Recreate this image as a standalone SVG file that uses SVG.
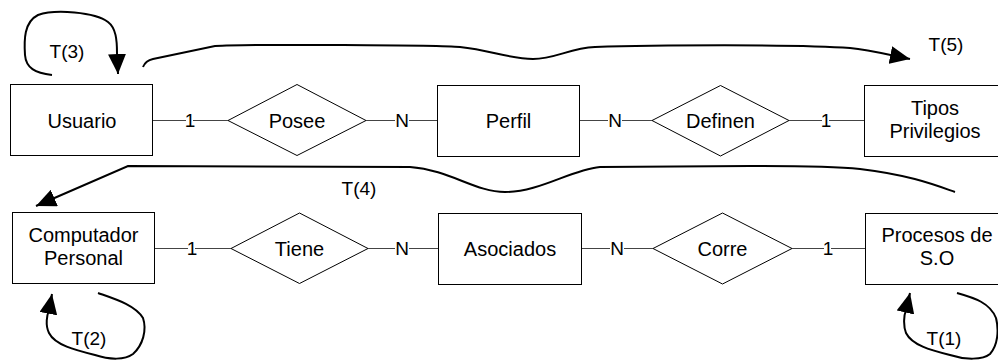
<svg xmlns="http://www.w3.org/2000/svg" width="998" height="360" viewBox="0 0 998 360">
  <style>
    .box { fill: #fff; stroke: #000; stroke-width: 1; }
    .rel { fill: #fff; stroke: #000; stroke-width: 1; }
    .txt { font-family: "Liberation Sans", Arial, sans-serif; font-size: 20px; fill: #000; text-anchor: middle; }
    .lbl { font-family: "Liberation Sans", Arial, sans-serif; font-size: 19px; fill: #000; text-anchor: middle; }
    .link { fill: none; stroke: #444; stroke-width: 1.2; }
    .flow { fill: none; stroke: #000; stroke-width: 2; marker-end: url(#arrow); }
  </style>
  <defs>
    <marker id="arrow" viewBox="0 0 20 18" refX="20" refY="9" markerWidth="20" markerHeight="18" markerUnits="userSpaceOnUse" orient="auto">
      <path d="M0,0 L20,9 L0,18 z" fill="#000"/>
    </marker>
  </defs>

  <rect width="998" height="360" fill="#fff"/>

  <!-- relationship lines with cardinalities -->
  <g id="connectors">
    <path class="link" d="M153,120.5 H186 M193,120.5 H228"/>
    <text class="lbl" x="190" y="127">1</text>
    <path class="link" d="M366,120.5 H395 M409,120.5 H437"/>
    <text class="lbl" x="402" y="127">N</text>
    <path class="link" d="M580,120.5 H608 M622,120.5 H652"/>
    <text class="lbl" x="615" y="127">N</text>
    <path class="link" d="M789,120.5 H822 M829,120.5 H864"/>
    <text class="lbl" x="826" y="127">1</text>

    <path class="link" d="M155,248.5 H188 M195,248.5 H231"/>
    <text class="lbl" x="192" y="255">1</text>
    <path class="link" d="M368,248.5 H395 M409,248.5 H438"/>
    <text class="lbl" x="402" y="255">N</text>
    <path class="link" d="M582,248.5 H610 M624,248.5 H653"/>
    <text class="lbl" x="617" y="255">N</text>
    <path class="link" d="M792,248.5 H824 M831,248.5 H866"/>
    <text class="lbl" x="828" y="255">1</text>

    <!-- transition arrows -->
    <path class="flow" d="M52,75 C35,73 26,68 25,55 C24,40 24,22 38,15 C55,9 95,12 108,22 C116,28 117,40 117,53 L118,74"/>
    <text class="lbl" x="67" y="58">T(3)</text>

    <path class="flow" d="M143,67 C145,62 148,60 153,59 L215,46 C250,44 440,45 460,47 C490,50 510,59 533,59 C555,59 570,48 595,47 C650,45 800,44 850,48 C870,50 885,54 910,59"/>
    <text class="lbl" x="946" y="51">T(5)</text>

    <path class="flow" d="M955,192 C935,185 910,175 860,169 C830,166 780,166 750,166 L600,167 C570,170 540,192 505,192 C475,192 450,170 410,167 L128,166 L36,206"/>
    <text class="lbl" x="359" y="195">T(4)</text>

    <path class="flow" d="M98,293 C115,299 135,305 143,318 C147,330 143,345 133,354 C125,360 110,360 95,355 C75,350 55,345 49,333 C45,325 47,315 49,310 L52,294"/>
    <text class="lbl" x="89" y="345">T(2)</text>

    <path class="flow" d="M957,293 C975,298 990,303 996,318 C999,330 998,345 990,354 C983,360 965,360 950,355 C930,350 912,345 906,333 C903,325 904,315 906,310 L910,293"/>
    <text class="lbl" x="944" y="345">T(1)</text>
  </g>

  <!-- entities -->
  <g id="usuario">
    <rect class="box" x="10.5" y="84.5" width="142" height="71"/>
    <text class="txt" x="82" y="127.5">Usuario</text>
  </g>
  <g id="perfil">
    <rect class="box" x="437.5" y="85.5" width="142" height="71"/>
    <text class="txt" x="508.5" y="128">Perfil</text>
  </g>
  <g id="tipos-privilegios">
    <rect class="box" x="864.5" y="85.5" width="142" height="71"/>
    <text class="txt" x="935" y="115">Tipos</text>
    <text class="txt" x="935" y="138">Privilegios</text>
  </g>
  <g id="computador-personal">
    <rect class="box" x="12.5" y="212.5" width="142" height="71"/>
    <text class="txt" x="83.5" y="242">Computador</text>
    <text class="txt" x="83.5" y="265">Personal</text>
  </g>
  <g id="asociados">
    <rect class="box" x="438.5" y="213.5" width="143" height="71"/>
    <text class="txt" x="510" y="256">Asociados</text>
  </g>
  <g id="procesos-so">
    <rect class="box" x="865.5" y="213.5" width="142" height="71"/>
    <text class="txt" x="937" y="242">Procesos de</text>
    <text class="txt" x="937" y="265">S.O</text>
  </g>

  <!-- relationships -->
  <g id="posee">
    <polygon class="rel" points="228,120.5 297,84.5 366,120.5 297,155.5"/>
    <text class="txt" x="297" y="127.5">Posee</text>
  </g>
  <g id="definen">
    <polygon class="rel" points="652,120.5 720.5,85.5 789,120.5 720.5,156"/>
    <text class="txt" x="720.5" y="127.5">Definen</text>
  </g>
  <g id="tiene">
    <polygon class="rel" points="231,248.5 299.5,213 368,248.5 299.5,283.5"/>
    <text class="txt" x="299.5" y="255.5">Tiene</text>
  </g>
  <g id="corre">
    <polygon class="rel" points="653,248.5 722.5,213 792,248.5 722.5,284"/>
    <text class="txt" x="722.5" y="255.5">Corre</text>
  </g>
</svg>
